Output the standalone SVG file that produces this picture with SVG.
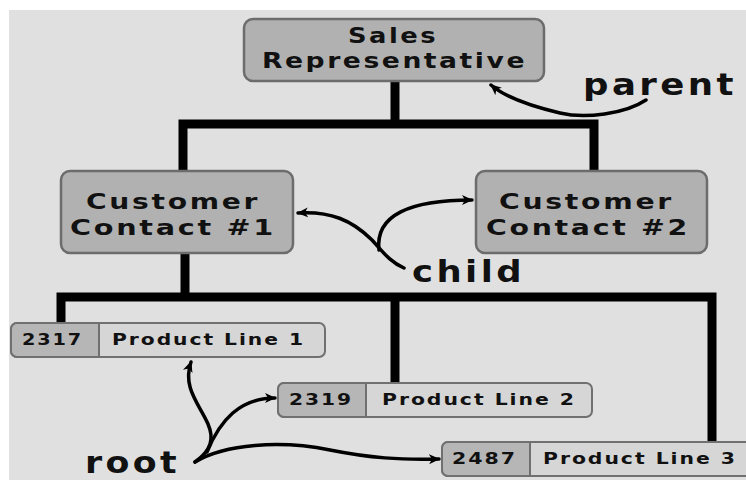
<svg xmlns="http://www.w3.org/2000/svg" width="746" height="480" viewBox="0 0 746 480">
<style>
.bg{fill:#e0e0e0}
.box{fill:#b1b1b1;stroke:#6c6c6c;stroke-width:2.5}
.idc{fill:#b6b6b6;stroke:#707070;stroke-width:2}
.namec{fill:#d6d6d6;stroke:#707070;stroke-width:2}
.t{font-family:"DejaVu Sans","Verdana",sans-serif;font-weight:bold;fill:#111}
.big{font-size:21px;letter-spacing:2px}
.sm{font-size:15.5px;letter-spacing:1.5px}
.lab{font-size:31px;letter-spacing:3px}
.tree{fill:none;stroke:#000;stroke-width:9;stroke-linejoin:miter;stroke-linecap:butt}
.arr{fill:none;stroke:#000;stroke-width:3.5;stroke-linecap:round;marker-end:url(#ah)}
</style>
<defs>
<marker id="ah" markerUnits="userSpaceOnUse" markerWidth="12" markerHeight="12" viewBox="0 0 12 12" refX="10" refY="6" orient="auto">
<path d="M0,1 L11,6 L0,11 L3,6 Z" fill="#000"/>
</marker>
</defs>
<rect width="746" height="480" fill="#ffffff"/>
<rect class="bg" x="9" y="10" width="737" height="470"/>
<g id="connectors">
<path class="tree" d="M395,81 V124"/>
<path class="tree" d="M183,172 V124 H594 V172"/>
<path class="tree" d="M185,253 V297"/>
<path class="tree" d="M61,323 V297 H712 V442"/>
<path class="tree" d="M395,297 V383"/>
<path class="arr" d="M646,100 C625,114 585,119 560,113 C530,106 505,97 491,85"/>
<path class="arr" d="M404,268 C390,262 383,252 372,240 C352,220 330,211 298,213"/>
<path class="arr" d="M379,250 C375,215 410,200 472,200"/>
<path class="arr" d="M195,462 C212,450 214,438 208,424 C200,405 182,388 191,362"/>
<path class="arr" d="M207,452 C220,420 240,398 275,398"/>
<path class="arr" d="M195,462 C225,444 280,440 330,450 C370,458 400,460 439,459"/>
</g>
<g id="sales-rep">
<rect class="box" x="244" y="19" width="300" height="62" rx="9"/>
<text class="t big" x="348" y="43" textLength="90" lengthAdjust="spacingAndGlyphs">Sales</text>
<text class="t big" x="262" y="68" textLength="265" lengthAdjust="spacingAndGlyphs">Representative</text>
</g>
<g id="customer-contact-1">
<rect class="box" x="61" y="171" width="232" height="82" rx="9"/>
<text class="t big" x="86" y="209" textLength="174" lengthAdjust="spacingAndGlyphs">Customer</text>
<text class="t big" x="70" y="235" textLength="206" lengthAdjust="spacingAndGlyphs">Contact #1</text>
</g>
<g id="customer-contact-2">
<rect class="box" x="476" y="171" width="231" height="82" rx="9"/>
<text class="t big" x="499" y="209" textLength="175" lengthAdjust="spacingAndGlyphs">Customer</text>
<text class="t big" x="486" y="235" textLength="204" lengthAdjust="spacingAndGlyphs">Contact #2</text>
</g>
<g id="product-line-1">
<rect class="namec" x="11" y="323" width="314" height="34" rx="6"/>
<path class="idc" d="M99,323 H17 A6,6 0 0 0 11,329 V351 A6,6 0 0 0 17,357 H99 Z"/>
<text class="t sm" x="22" y="345" textLength="61" lengthAdjust="spacingAndGlyphs">2317</text>
<text class="t sm" x="112" y="345" textLength="193" lengthAdjust="spacingAndGlyphs">Product Line 1</text>
</g>
<g id="product-line-2">
<rect class="namec" x="278" y="383" width="314" height="34" rx="6"/>
<path class="idc" d="M366,383 H284 A6,6 0 0 0 278,389 V411 A6,6 0 0 0 284,417 H366 Z"/>
<text class="t sm" x="289" y="405" textLength="64" lengthAdjust="spacingAndGlyphs">2319</text>
<text class="t sm" x="382" y="405" textLength="194" lengthAdjust="spacingAndGlyphs">Product Line 2</text>
</g>
<g id="product-line-3">
<rect class="namec" x="442" y="442" width="314" height="34" rx="6"/>
<path class="idc" d="M530,442 H448 A6,6 0 0 0 442,448 V470 A6,6 0 0 0 448,476 H530 Z"/>
<text class="t sm" x="452" y="464" textLength="65" lengthAdjust="spacingAndGlyphs">2487</text>
<text class="t sm" x="543" y="464" textLength="194" lengthAdjust="spacingAndGlyphs">Product Line 3</text>
</g>
<g id="labels">
<text class="t lab" x="583" y="95" textLength="154" lengthAdjust="spacingAndGlyphs">parent</text>
<text class="t lab" x="412" y="282" textLength="113" lengthAdjust="spacingAndGlyphs">child</text>
<text class="t lab" x="85" y="473" textLength="95" lengthAdjust="spacingAndGlyphs">root</text>
</g>
</svg>
